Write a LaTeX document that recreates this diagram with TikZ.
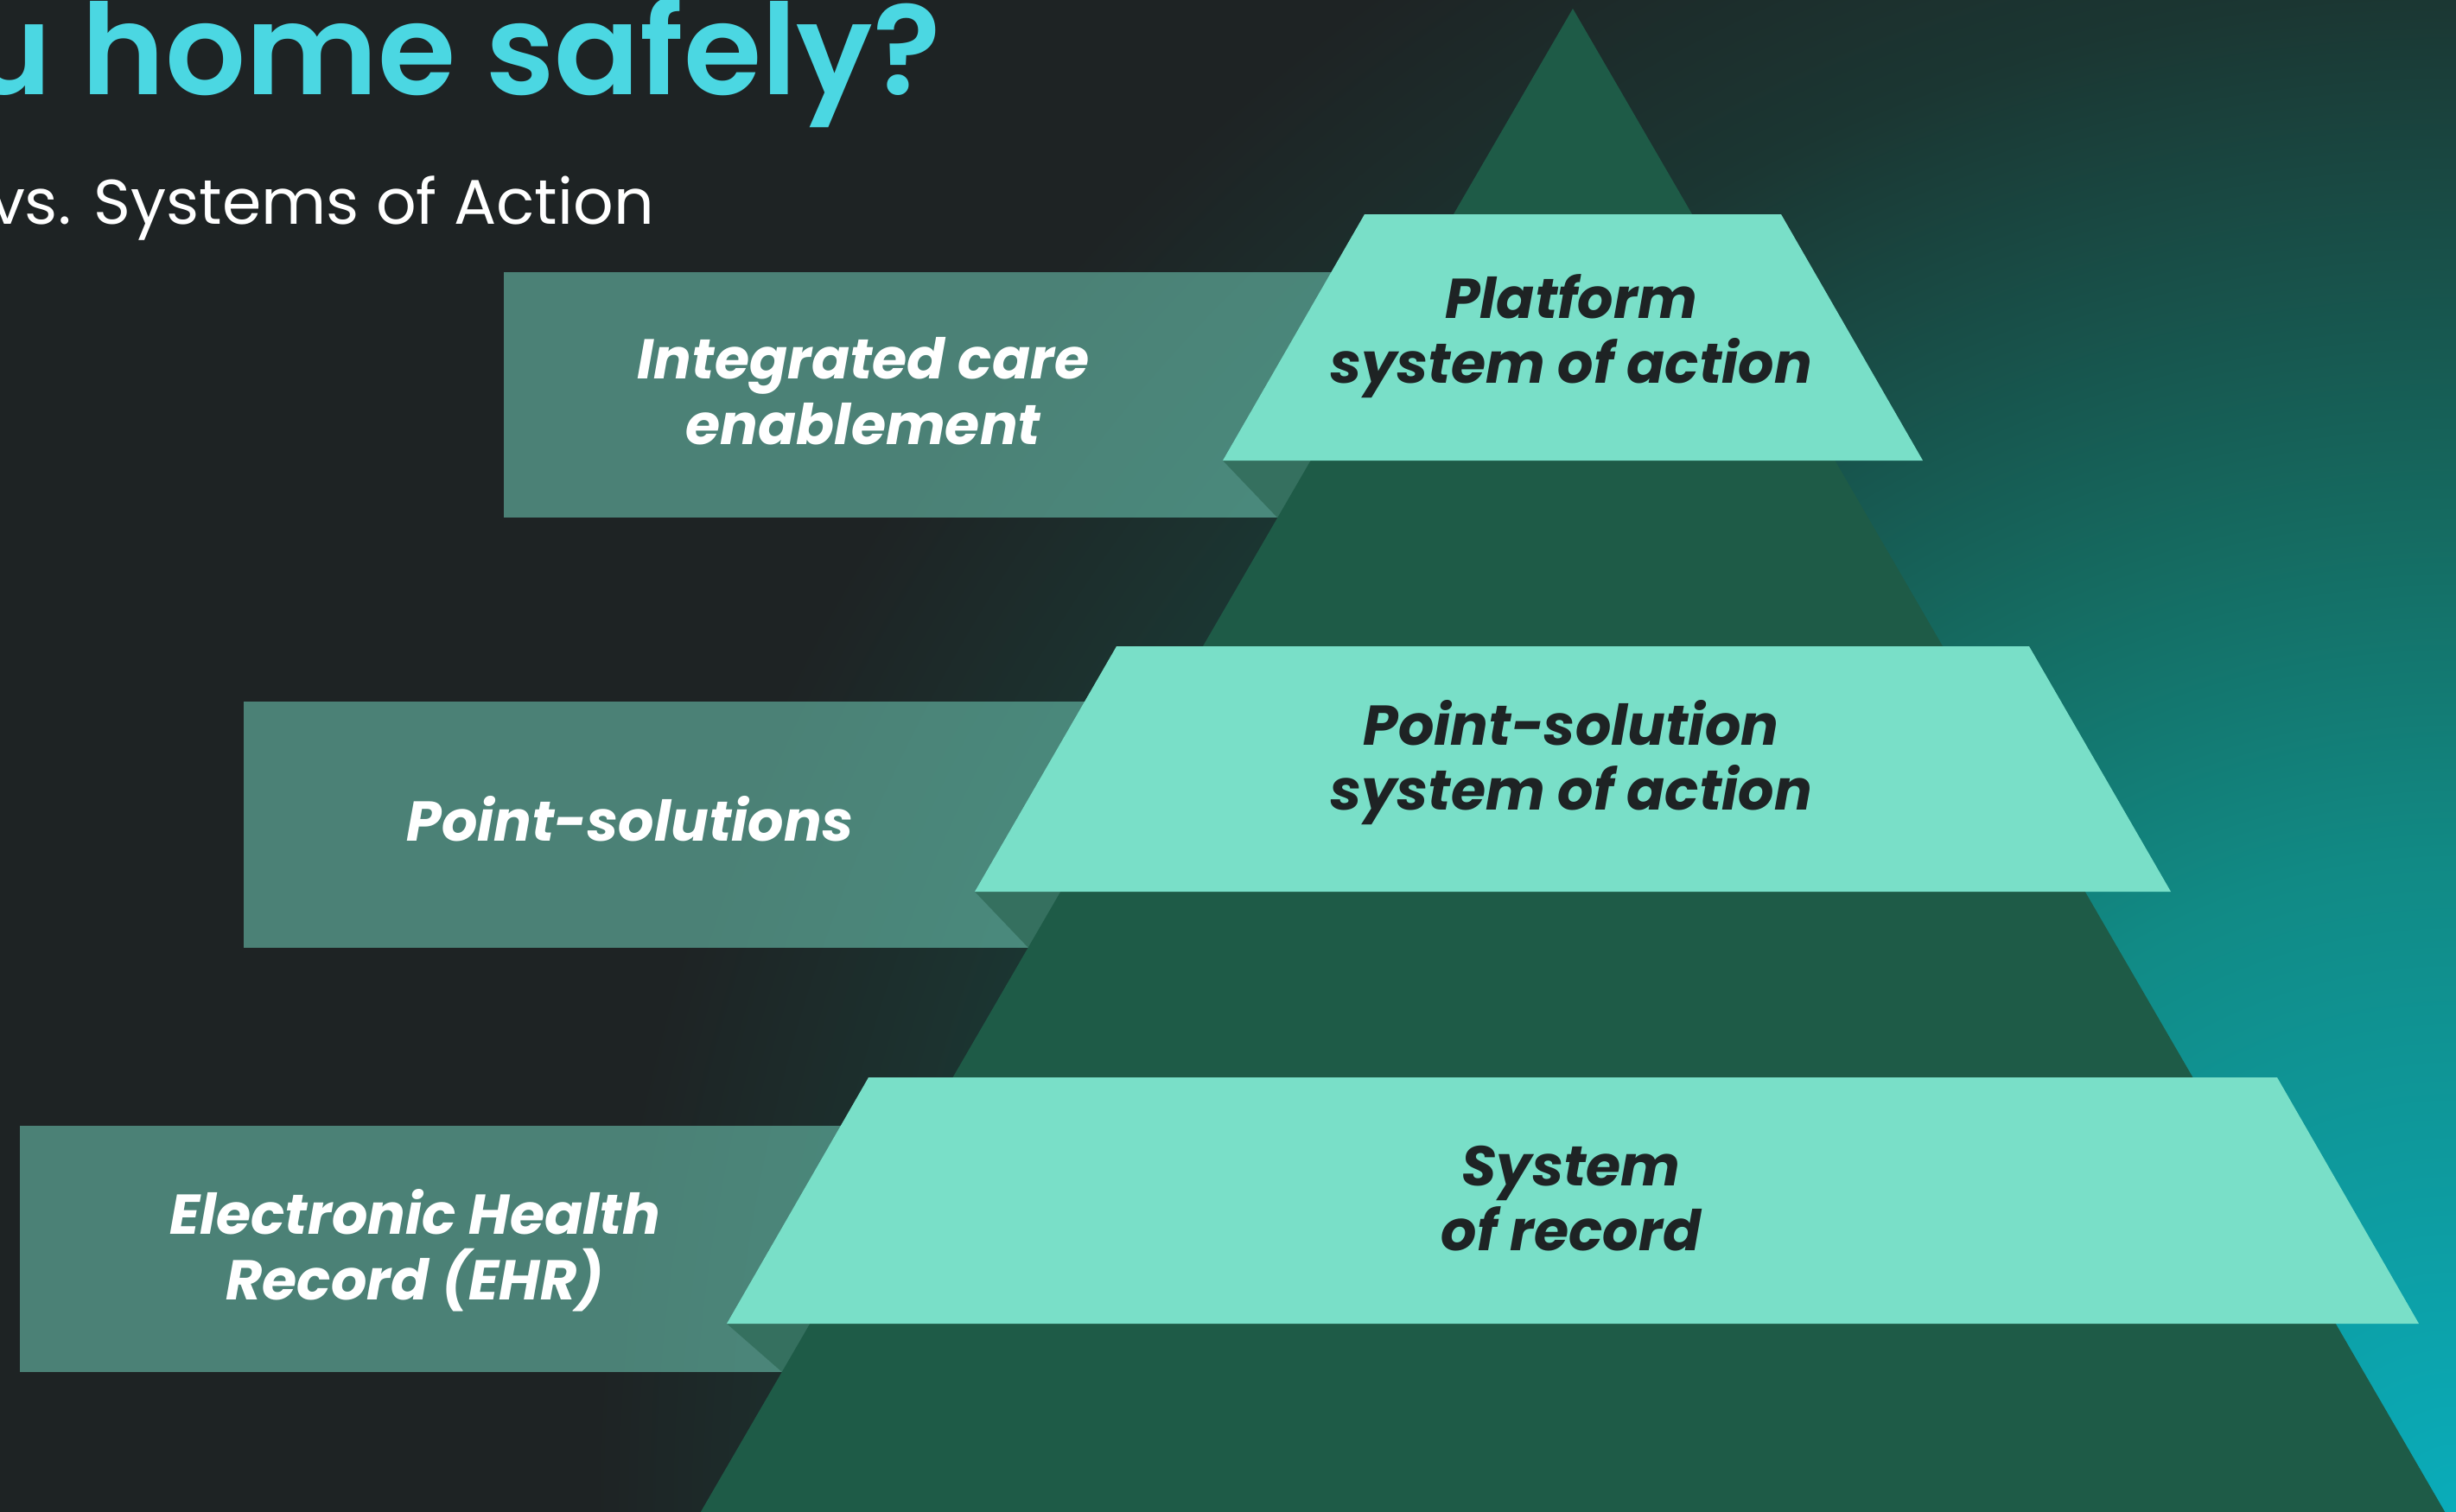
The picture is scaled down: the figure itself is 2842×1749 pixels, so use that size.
\documentclass[tikz,border=0pt]{standalone}
\usepackage{fontspec}
\setmainfont{Poppins}
\IfFontExistsTF{Poppins SemiBold}{\newfontfamily\titlefont{Poppins SemiBold}}{\newfontfamily\titlefont{Poppins}[UprightFont=*-Bold]}
\definecolor{bgdark}{HTML}{1E2324}
\definecolor{glowA}{HTML}{0AACBA}
\definecolor{glowB}{HTML}{118A85}
\definecolor{glowC}{HTML}{156A60}
\definecolor{glowD}{HTML}{1B3632}
\definecolor{pyr}{HTML}{1E5B47}
\definecolor{mint}{HTML}{79DFC8}
\definecolor{foldc}{HTML}{35705F}
\definecolor{titlec}{HTML}{4BD7E2}
\definecolor{inkdark}{HTML}{1E2324}
\pgfdeclareradialshading{bgglowshade}{\pgfpoint{0bp}{0bp}}{%
  color(0bp)=(glowA); color(750bp)=(glowB); color(1150bp)=(glowC);
  color(1750bp)=(glowD); color(2150bp)=(bgdark); color(3400bp)=(bgdark)}
\tikzset{
  labelbox/.style={fill=mint, fill opacity=0.5},
  foldshadow/.style={fill=foldc},
  tierbox/.style={fill=mint},
  labeltext/.style={inner sep=0pt, align=center, text=white, anchor=base,
    font=\fontsize{65}{76}\selectfont\bfseries\itshape},
  tiertext/.style={inner sep=0pt, align=center, text=inkdark, anchor=base,
    font=\fontsize{65}{75}\selectfont\bfseries\itshape},
}
\begin{document}
\begin{tikzpicture}[x=1pt,y=-1pt]
\useasboundingbox (0,0) rectangle (2842,1749);
\fill[bgdark] (0,0) rectangle (2842,1749);
\begin{scope}
  \clip (0,0) rectangle (2842,1749);
  \node[inner sep=0pt, outer sep=0pt] (glow) at (2842,1749) {\pgfuseshading{bgglowshade}};
\end{scope}

% label ribbons
\fill[labelbox] (583,315) rectangle (1820,599);
\fill[labelbox] (282,812) rectangle (1820,1097);
\fill[labelbox] (23,1303) rectangle (1820,1588);
% fold shadows
\fill[foldshadow] (1415,533) -- (1820,533) -- (1820,599) -- (1478,599) -- cycle;
\fill[foldshadow] (1128,1032) -- (1820,1032) -- (1820,1097) -- (1190,1097) -- cycle;
\fill[foldshadow] (841,1532) -- (1820,1532) -- (1820,1588) -- (905,1588) -- cycle;

% pyramid
\fill[pyr] (1820,10) -- (2835,1760) -- (805,1760) -- cycle;

% tiers
\fill[tierbox] (1579,248) -- (2061,248) -- (2225,533) -- (1415,533) -- cycle;
\fill[tierbox] (1292,748) -- (2348,748) -- (2512,1032) -- (1128,1032) -- cycle;
\fill[tierbox] (1005,1247) -- (2635,1247) -- (2799,1532) -- (841,1532) -- cycle;

% title
\node[anchor=base east, inner sep=0pt, text=titlec,
  font=\fontsize{146}{150}\selectfont\titlefont] (title) at (1089,109) {u home safely?};
\node[anchor=base east, inner sep=0pt, text=white,
  font=\fontsize{73}{80}\selectfont] (subtitle) at (757,259) {vs. Systems of Action};

% tier texts (anchor = baseline of the last line)
\node[tiertext] (t1) at (1818,443) {Platform\\system of action};
\node[tiertext] (t2) at (1818,937) {Point-solution\\system of action};
\node[tiertext] (t3) at (1818,1447) {System\\of record};

% label texts
\node[labeltext] (l1) at (999,514) {Integrated care\\enablement};
\node[labeltext] (l2) at (729,973) {Point-solutions};
\node[labeltext] (l3) at (480,1504) {Electronic Health\\Record (EHR)};
\end{tikzpicture}
\end{document}
